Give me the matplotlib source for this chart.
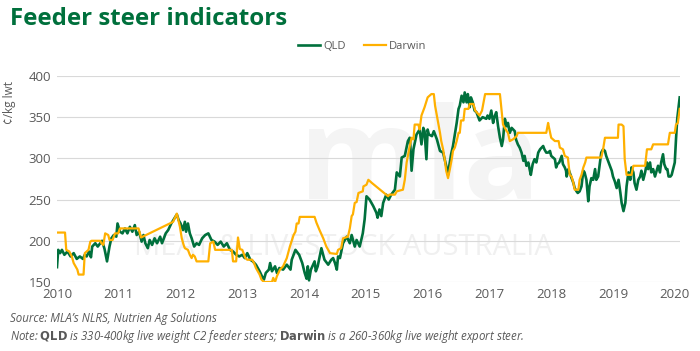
import matplotlib.pyplot as plt

plt.rcParams['font.family'] = ['Open Sans', 'DejaVu Sans']

GREEN = '#00703c'
ORANGE = '#ffb000'
GREY = '#595959'

# QLD feeder steer indicator (c/kg lwt)
qld_x = [2010.00, 2010.02, 2010.05, 2010.08, 2010.12, 2010.17, 2010.22, 2010.27, 2010.32, 2010.37,
         2010.42, 2010.45, 2010.48, 2010.52, 2010.55, 2010.57, 2010.62, 2010.66, 2010.70, 2010.73,
         2010.77, 2010.81, 2010.85, 2010.88, 2010.92, 2010.96, 2010.98, 2011.02, 2011.06, 2011.10,
         2011.14, 2011.18, 2011.22, 2011.26, 2011.29, 2011.33, 2011.37, 2011.40, 2011.43, 2011.47,
         2011.50, 2011.54, 2011.58, 2011.62, 2011.67, 2011.70, 2011.73, 2011.76, 2011.80, 2011.85,
         2011.90, 2011.94, 2011.97, 2012.00, 2012.04, 2012.07, 2012.09, 2012.12, 2012.15, 2012.18,
         2012.22, 2012.26, 2012.30, 2012.35, 2012.40, 2012.45, 2012.50, 2012.55, 2012.60, 2012.65,
         2012.70, 2012.75, 2012.80, 2012.85, 2012.90, 2012.95, 2013.00, 2013.04, 2013.08, 2013.13,
         2013.17, 2013.22, 2013.28, 2013.33, 2013.35, 2013.38, 2013.43, 2013.45, 2013.48, 2013.53,
         2013.56, 2013.60, 2013.66, 2013.72, 2013.78, 2013.80, 2013.86, 2013.92, 2013.97, 2014.01,
         2014.04, 2014.06, 2014.08, 2014.11, 2014.17, 2014.19, 2014.22, 2014.28, 2014.33, 2014.39,
         2014.44, 2014.47, 2014.50, 2014.53, 2014.55, 2014.58, 2014.63, 2014.69, 2014.74, 2014.77,
         2014.82, 2014.85, 2014.90, 2014.95, 2014.98, 2015.01, 2015.06, 2015.12, 2015.17, 2015.19,
         2015.22, 2015.25, 2015.28, 2015.33, 2015.37, 2015.41, 2015.47, 2015.50, 2015.55, 2015.58,
         2015.63, 2015.68, 2015.71, 2015.72, 2015.74, 2015.77, 2015.82, 2015.87, 2015.90, 2015.93,
         2015.95, 2015.98, 2016.00, 2016.02, 2016.07, 2016.10, 2016.15, 2016.20, 2016.25, 2016.30,
         2016.33, 2016.35, 2016.38, 2016.41, 2016.47, 2016.50, 2016.52, 2016.55, 2016.58, 2016.60,
         2016.63, 2016.65, 2016.68, 2016.70, 2016.73, 2016.76, 2016.79, 2016.84, 2016.89, 2016.95,
         2016.97, 2017.00, 2017.03, 2017.06, 2017.08, 2017.11, 2017.14, 2017.17, 2017.20, 2017.22,
         2017.25, 2017.28, 2017.30, 2017.33, 2017.36, 2017.41, 2017.43, 2017.46, 2017.49, 2017.52,
         2017.55, 2017.57, 2017.60, 2017.63, 2017.65, 2017.67, 2017.70, 2017.73, 2017.76, 2017.79,
         2017.82, 2017.87, 2017.89, 2017.92, 2017.95, 2017.98, 2018.00, 2018.06, 2018.08, 2018.10,
         2018.13, 2018.17, 2018.19, 2018.22, 2018.24, 2018.25, 2018.28, 2018.33, 2018.36, 2018.38,
         2018.41, 2018.43, 2018.46, 2018.49, 2018.52, 2018.54, 2018.57, 2018.60, 2018.62, 2018.65,
         2018.68, 2018.71, 2018.73, 2018.76, 2018.79, 2018.81, 2018.84, 2018.87, 2018.89, 2018.92,
         2018.95, 2018.98, 2019.00, 2019.03, 2019.06, 2019.09, 2019.12, 2019.14, 2019.17, 2019.20,
         2019.22, 2019.25, 2019.28, 2019.30, 2019.33, 2019.35, 2019.38, 2019.41, 2019.44, 2019.46,
         2019.49, 2019.52, 2019.55, 2019.57, 2019.60, 2019.62, 2019.65, 2019.68, 2019.73, 2019.76,
         2019.78, 2019.81, 2019.83, 2019.86, 2019.88, 2019.90, 2019.93, 2019.95, 2020.00, 2020.02,
         2020.04, 2020.08]
qld_y = [168, 189, 185, 189, 183, 187, 181, 185, 178, 181,
         178, 183, 181, 187, 180, 193, 197, 193, 197, 200,
         190, 175, 193, 203, 207, 205, 221, 211, 209, 215,
         209, 217, 211, 219, 207, 211, 199, 207, 197, 191,
         201, 195, 203, 197, 205, 197, 203, 209, 213, 221,
         227, 232, 225, 221, 213, 223, 211, 221, 209, 203,
         193, 197, 195, 203, 207, 209, 201, 199, 195, 199,
         193, 197, 189, 187, 183, 181, 183, 179, 185, 177,
         175, 171, 163, 155, 153, 161, 165, 173, 163, 169,
         161, 167, 165, 171, 165, 177, 189, 183, 173, 161,
         154, 169, 152, 165, 175, 163, 169, 191, 177, 171,
         177, 179, 173, 165, 181, 179, 197, 205, 197, 207,
         193, 201, 193, 209, 226, 254, 250, 242, 234, 228,
         238, 230, 246, 256, 250, 256, 262, 283, 278, 301,
         303, 321, 325, 315, 285, 311, 329, 335, 317, 337,
         333, 299, 335, 329, 327, 333, 323, 309, 307, 291,
         280, 291, 305, 315, 343, 360, 364, 376, 368, 380,
         368, 378, 362, 374, 368, 358, 356, 346, 350, 348,
         352, 348, 358, 343, 350, 356, 339, 325, 315, 323,
         348, 339, 343, 331, 337, 333, 323, 317, 313, 307,
         297, 303, 291, 295, 287, 280, 293, 299, 295, 307,
         311, 315, 311, 307, 307, 309, 303, 299, 289, 293,
         295, 303, 293, 289, 285, 278, 287, 276, 270, 264,
         260, 258, 260, 266, 285, 283, 274, 248, 266, 276,
         274, 287, 274, 278, 295, 307, 311, 309, 303, 297,
         291, 285, 278, 272, 264, 274, 258, 246, 236, 246,
         266, 283, 274, 289, 283, 270, 262, 274, 278, 285,
         274, 283, 295, 287, 295, 283, 287, 278, 291, 283,
         295, 305, 293, 287, 287, 278, 278, 280, 295, 323,
         348, 374]

# Darwin export steer indicator (c/kg lwt)
darwin_x = [2010.00, 2010.13, 2010.15, 2010.20, 2010.24, 2010.27, 2010.30, 2010.33, 2010.35, 2010.43,
            2010.45, 2010.48, 2010.51, 2010.54, 2010.56, 2010.70, 2010.72, 2010.75, 2010.78, 2010.83,
            2010.85, 2010.90, 2010.94, 2010.99, 2011.02, 2011.32, 2011.36, 2011.88, 2011.94, 2011.99,
            2012.02, 2012.05, 2012.07, 2012.12, 2012.15, 2012.18, 2012.20, 2012.23, 2012.26, 2012.45,
            2012.48, 2012.53, 2012.56, 2012.83, 2012.85, 2012.90, 2012.93, 2012.96, 2013.00, 2013.05,
            2013.08, 2013.16, 2013.19, 2013.22, 2013.28, 2013.31, 2013.35, 2013.48, 2013.50, 2013.53,
            2013.56, 2013.61, 2013.66, 2013.72, 2013.77, 2013.83, 2013.86, 2013.88, 2013.91, 2013.93,
            2014.17, 2014.20, 2014.25, 2014.31, 2014.36, 2014.42, 2014.53, 2014.55, 2014.60, 2014.63,
            2014.71, 2014.74, 2014.77, 2014.79, 2014.82, 2014.85, 2014.88, 2014.95, 2014.96, 2015.01,
            2015.04, 2015.10, 2015.36, 2015.38, 2015.47, 2015.50, 2015.60, 2015.63, 2015.66, 2015.71,
            2015.74, 2015.77, 2015.79, 2015.85, 2015.87, 2015.90, 2015.95, 2016.00, 2016.06, 2016.10,
            2016.12, 2016.17, 2016.20, 2016.22, 2016.25, 2016.28, 2016.30, 2016.33, 2016.36, 2016.39,
            2016.41, 2016.44, 2016.47, 2016.50, 2016.52, 2016.54, 2016.58, 2016.60, 2016.66, 2016.68,
            2016.74, 2016.77, 2016.84, 2016.88, 2016.93, 2017.17, 2017.20, 2017.22, 2017.25, 2017.28,
            2017.30, 2017.33, 2017.38, 2017.44, 2017.46, 2017.92, 2017.95, 2017.96, 2018.00, 2018.06,
            2018.12, 2018.14, 2018.19, 2018.22, 2018.27, 2018.30, 2018.33, 2018.36, 2018.38, 2018.44,
            2018.46, 2018.49, 2018.52, 2018.55, 2018.57, 2018.81, 2018.84, 2018.87, 2019.08, 2019.09,
            2019.14, 2019.17, 2019.19, 2019.22, 2019.30, 2019.33, 2019.52, 2019.55, 2019.62, 2019.65,
            2019.89, 2019.92, 2020.00, 2020.02, 2020.05, 2020.08]
darwin_y = [210, 210, 189, 187, 181, 173, 169, 165, 159, 159,
            185, 187, 189, 199, 200, 200, 197, 195, 209, 207,
            201, 201, 209, 209, 215, 215, 204, 223, 233, 217,
            203, 195, 191, 189, 183, 179, 183, 181, 175, 175,
            197, 199, 189, 189, 175, 175, 204, 190, 189, 179,
            177, 177, 173, 167, 159, 153, 150, 150, 155, 150,
            157, 165, 169, 179, 193, 207, 211, 221, 221, 229,
            229, 222, 213, 203, 193, 185, 184, 189, 191, 203,
            205, 215, 230, 232, 246, 247, 258, 260, 266, 268,
            274, 270, 254, 256, 256, 260, 262, 274, 295, 315,
            325, 323, 341, 341, 335, 352, 362, 374, 378, 378,
            364, 343, 331, 321, 311, 297, 285, 276, 287, 299,
            309, 313, 321, 331, 331, 346, 346, 360, 360, 366,
            366, 358, 352, 358, 378, 378, 356, 341, 337, 333,
            331, 321, 323, 327, 331, 331, 343, 339, 325, 321,
            321, 313, 311, 303, 301, 280, 278, 270, 262, 262,
            274, 280, 289, 295, 301, 301, 311, 325, 325, 341,
            341, 339, 299, 280, 280, 291, 291, 311, 311, 317,
            317, 331, 331, 341, 343, 360]

years = list(range(2010, 2021))
yticks = [150, 200, 250, 300, 350, 400]

fig = plt.figure(figsize=(7.0, 3.51), dpi=100)
ax = fig.add_axes([0.0814, 0.1966, 0.8896, 0.587])

# faint MLA watermark, kept under the grid and the lines
ax.text(0.60, 0.345, 'mla', transform=fig.transFigure, fontsize=92, fontweight='bold',
        color='#f4f4f4', ha='center', va='bottom', zorder=0.1, clip_on=False)
ax.text(0.49, 0.335, 'MEAT & LIVESTOCK AUSTRALIA', transform=fig.transFigure, fontsize=21,
        color='#f0f0f0', ha='center', va='top', zorder=0.1, clip_on=False)

ax.plot(qld_x, qld_y, color=GREEN, lw=1.9, label='QLD', zorder=3)
ax.plot(darwin_x, darwin_y, color=ORANGE, lw=1.6, label='Darwin', zorder=4)

ax.set_xlim(2010, 2020.08)
ax.set_ylim(150, 400)
ax.set_xticks(years)
ax.set_yticks(yticks)
ax.tick_params(length=0, labelsize=9.5, labelcolor=GREY, pad=4)
ax.grid(axis='y', color='#d9d9d9', lw=0.8, zorder=0.5)
ax.set_axisbelow(True)
for s in ax.spines.values():
    s.set_visible(False)

ax.set_ylabel('¢/kg lwt', fontsize=8.5, color=GREY, labelpad=6)
ax.yaxis.set_label_coords(-0.066, 0.87)

ax.legend(loc='lower center', bbox_to_anchor=(0.49, 1.07), ncol=2, frameon=False,
          fontsize=8, handlelength=2.0, columnspacing=1.6, handletextpad=0.3,
          labelcolor=GREY)

fig.text(0.014, 0.945, 'Feeder steer indicators', fontsize=17.3, fontweight='bold',
         color=GREEN, va='center', ha='left')

fig.text(0.014, 0.093, 'Source: MLA\u2019s NLRS, Nutrien Ag Solutions', fontsize=8.3,
         style='italic', color=GREY, va='center', ha='left')
fig.text(0.014, 0.041,
         r'Note: $\bf{QLD}$ is 330-400kg live weight C2 feeder steers; $\bf{Darwin}$ is a 260-360kg live weight export steer.',
         fontsize=8.3, style='italic', color=GREY, va='center', ha='left')

fig.savefig('out.png', dpi=100)
